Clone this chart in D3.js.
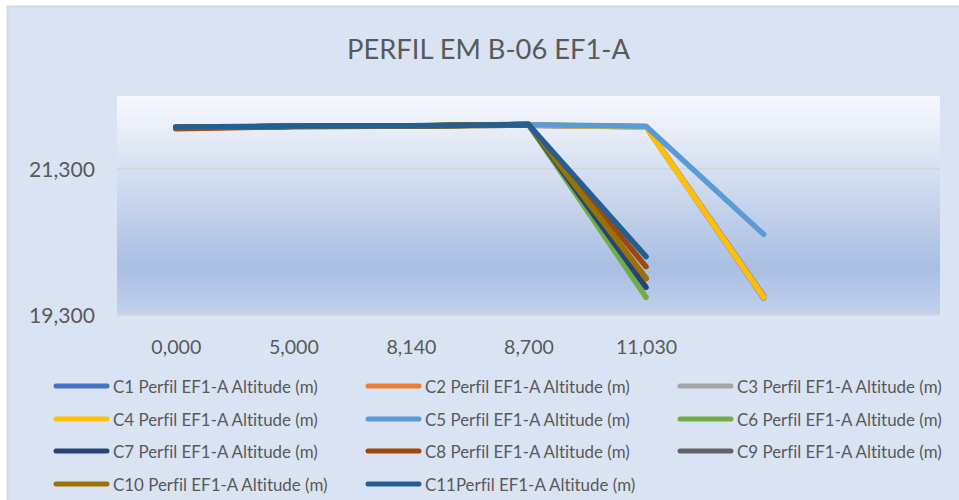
<!DOCTYPE html>
<html>
<head>
<meta charset="utf-8">
<script src="https://cdn.jsdelivr.net/npm/d3@7"></script>
<style>
  html, body { margin: 0; padding: 0; background: #ffffff; }
  svg { display: block; }
  text { font-family: Lato, "Open Sans", sans-serif; fill: #595959; font-variant-ligatures: none; }
</style>
</head>
<body>
<svg id="chart" width="959" height="500"></svg>
<script>
// ---- data ----
const title = "PERFIL EM B-06 EF1-A";
const categories = ["0,000", "5,000", "8,140", "8,700", "11,030", "", ""];
const yTicks = [19300, 21300];
const yDomain = [19300, 22300];

const seriesNames = [
  "C1 Perfil EF1-A Altitude (m)", "C2 Perfil EF1-A Altitude (m)", "C3 Perfil EF1-A Altitude (m)",
  "C4 Perfil EF1-A Altitude (m)", "C5 Perfil EF1-A Altitude (m)", "C6 Perfil EF1-A Altitude (m)",
  "C7 Perfil EF1-A Altitude (m)", "C8 Perfil EF1-A Altitude (m)", "C9 Perfil EF1-A Altitude (m)",
  "C10 Perfil EF1-A Altitude (m)", "C11Perfil EF1-A Altitude (m)"
];
const seriesColors = ["#4472C4", "#ED7D31", "#A5A5A5", "#FFC000", "#5B9BD5", "#70AD47",
                      "#264478", "#9E480E", "#636363", "#997300", "#255E91"];

const c1  = [21870, 21885, 21890, 21900, 21880, 19560];
const c2  = [21860, 21885, 21890, 21900, 21878, 19545];
const c3  = [21865, 21885, 21890, 21900, 21876, 19525];
const c4  = [21868, 21885, 21890, 21905, 21875, 19550];
const c5  = [21875, 21888, 21892, 21905, 21885, 20405];
const c6  = [21870, 21885, 21890, 21910, 19542];
const c7  = [21870, 21885, 21890, 21910, 19679];
const c8  = [21852, 21880, 21890, 21910, 19962];
const c9  = [21870, 21885, 21890, 21910, 19800];
const c10 = [21870, 21885, 21890, 21915, 19803];
const c11 = [21875, 21888, 21892, 21910, 20099];
const seriesValues = [c1, c2, c3, c4, c5, c6, c7, c8, c9, c10, c11];

// ---- layout ----
const svg = d3.select("#chart");
const plot = { left: 117, right: 940, top: 96, bottom: 315 };

// helper: fit font size so that a sample string reaches target width
function fitSize(sample, target, base) {
  const t = svg.append("text").attr("font-size", base).text(sample);
  const w = t.node().getComputedTextLength();
  t.remove();
  return base * target / w;
}

// background
svg.append("rect").attr("x", 7.5).attr("y", 6.5).attr("width", 980).attr("height", 520)
  .attr("fill", "#DAE3F3").attr("stroke", "#D9D9D9").attr("stroke-width", 2);

const defs = svg.append("defs");
const grad = defs.append("linearGradient").attr("id", "plotGrad")
  .attr("x1", 0).attr("y1", 0).attr("x2", 0).attr("y2", 1);
grad.append("stop").attr("offset", "0%").attr("stop-color", "#F7F9FD");
grad.append("stop").attr("offset", "33%").attr("stop-color", "#D7E0F1");
grad.append("stop").attr("offset", "78%").attr("stop-color", "#A9BEE3");
grad.append("stop").attr("offset", "100%").attr("stop-color", "#C2D1EC");

svg.append("rect").attr("x", plot.left).attr("y", plot.top)
  .attr("width", plot.right - plot.left).attr("height", plot.bottom - plot.top)
  .attr("fill", "url(#plotGrad)");

// scales
const x = d3.scalePoint().domain(d3.range(categories.length))
  .range([plot.left, plot.right]).padding(0.5);
const y = d3.scaleLinear().domain(yDomain).range([plot.bottom, plot.top]);

// gridlines
svg.append("g").selectAll("line").data(yTicks).join("line")
  .attr("x1", plot.left).attr("x2", plot.right)
  .attr("y1", d => y(d)).attr("y2", d => y(d))
  .attr("stroke", "#D5D6DA").attr("stroke-width", 2);

// title
const titleSize = fitSize(title, 283, 28);
svg.append("text").attr("x", 488.5).attr("y", 48)
  .attr("text-anchor", "middle").attr("dominant-baseline", "central")
  .attr("font-size", titleSize).text(title);

// y axis labels
const yTickSize = fitSize("21,300", 66, 20);
const yAxis = d3.axisLeft(y).tickValues(yTicks).tickSize(0).tickPadding(0)
  .tickFormat(d3.format(",d"));
const yg = svg.append("g").attr("transform", `translate(95,0)`).call(yAxis);
yg.select(".domain").remove();
yg.selectAll("text").attr("font-size", yTickSize).attr("font-family", null)
  .attr("fill", "#595959").attr("dy", "0.35em").attr("x", 0);

// x axis labels
const xTickSize = fitSize("0,000", 50, 20);
const xAxis = d3.axisBottom(x).tickSize(0).tickPadding(0).tickFormat(i => categories[i]);
const xg = svg.append("g").attr("transform", `translate(0,347)`).call(xAxis);
xg.select(".domain").remove();
xg.selectAll("text").attr("font-size", xTickSize).attr("font-family", null)
  .attr("fill", "#595959").attr("y", 0).attr("dy", "0.35em");

// lines
const line = d3.line().x((d, i) => x(i)).y(d => y(d));
svg.append("g").selectAll("path").data(seriesValues).join("path")
  .attr("d", d => line(d))
  .attr("fill", "none")
  .attr("stroke", (d, i) => seriesColors[i])
  .attr("stroke-width", 5.5)
  .attr("stroke-linecap", "round")
  .attr("stroke-linejoin", "round");

// legend
const legSize = fitSize(seriesNames[0], 205, 16);
const colX = [54, 366, 678];
const rowY = [386, 419, 451, 484];
const lg = svg.append("g").selectAll("g").data(seriesNames).join("g")
  .attr("transform", (d, i) => `translate(${colX[i % 3]},${rowY[Math.floor(i / 3)]})`);
lg.append("line").attr("x1", 2).attr("x2", 53).attr("y1", 0).attr("y2", 0)
  .attr("stroke", (d, i) => seriesColors[i]).attr("stroke-width", 5)
  .attr("stroke-linecap", "round");
lg.append("text").attr("x", 59).attr("y", 0).attr("dominant-baseline", "central")
  .attr("font-size", legSize).text(d => d);
</script>
</body>
</html>
